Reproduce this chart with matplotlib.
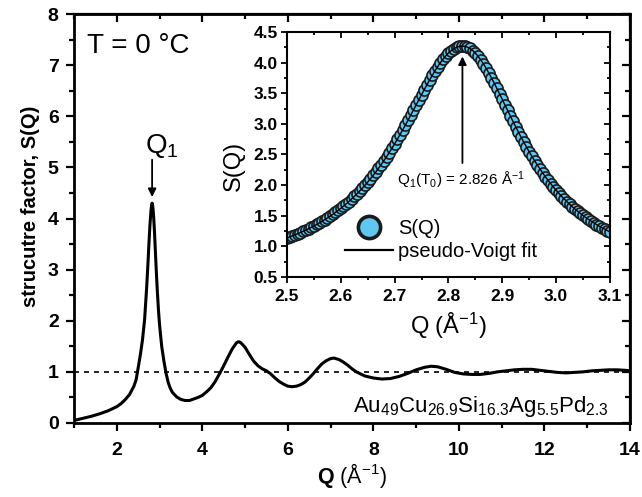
"""
Structure factor S(Q) of the Au49Cu26.9Si16.3Ag5.5Pd2.3 melt at T = 0 C,
with an inset zooming on the first sharp diffraction peak Q1.
"""

import matplotlib

matplotlib.use("Agg")
import matplotlib.pyplot as plt
from matplotlib.ticker import MultipleLocator

plt.rcParams["font.family"] = ["Liberation Sans", "DejaVu Sans"]
plt.rcParams["mathtext.fontset"] = "custom"
plt.rcParams["mathtext.rm"] = "Liberation Sans"
plt.rcParams["mathtext.it"] = "Liberation Sans:italic"
plt.rcParams["mathtext.bf"] = "Liberation Sans:bold"

# ---------------------------------------------------------------------------
# Data
# ---------------------------------------------------------------------------
q_main = [
    1.00, 1.20, 1.40, 1.60, 1.80, 2.00, 2.10, 2.20, 2.30, 2.40, 2.45, 2.50,
    2.55, 2.60, 2.65, 2.70, 2.725, 2.75, 2.775, 2.80, 2.815, 2.826, 2.84,
    2.86, 2.88, 2.90, 2.925, 2.95, 2.975, 3.00, 3.05, 3.10, 3.15, 3.20, 3.25,
    3.30, 3.40, 3.50, 3.60, 3.70, 3.80, 3.90, 4.00, 4.10, 4.20, 4.30, 4.40,
    4.50, 4.60, 4.70, 4.80, 4.85, 4.90, 5.00, 5.10, 5.20, 5.30, 5.40, 5.50,
    5.60, 5.70, 5.80, 5.90, 6.00, 6.10, 6.20, 6.30, 6.40, 6.50, 6.60, 6.70,
    6.80, 6.90, 7.00, 7.08, 7.20, 7.30, 7.40, 7.50, 7.60, 7.70, 7.80, 7.90,
    8.00, 8.20, 8.40, 8.60, 8.80, 9.00, 9.20, 9.35, 9.50, 9.70, 9.90, 10.10,
    10.30, 10.50, 10.70, 10.90, 11.10, 11.30, 11.50, 11.70, 11.90, 12.10,
    12.30, 12.50, 12.70, 12.90, 13.10, 13.30, 13.50, 13.70, 13.90, 14.00,
]
s_main = [
    0.05, 0.09, 0.13, 0.18, 0.24, 0.32, 0.38, 0.46, 0.56, 0.72, 0.84, 1.08,
    1.33, 1.62, 2.02, 2.67, 3.06, 3.48, 3.87, 4.16, 4.26, 4.30, 4.25,
    4.06, 3.76, 3.40, 2.95, 2.55, 2.20, 1.92, 1.50, 1.22, 0.98, 0.80, 0.68,
    0.60, 0.51, 0.46, 0.44, 0.44, 0.47, 0.50, 0.54, 0.61, 0.69, 0.81, 0.96,
    1.12, 1.29, 1.45, 1.57, 1.59, 1.57, 1.48, 1.34, 1.21, 1.12, 1.06, 1.02,
    0.96, 0.88, 0.81, 0.76, 0.72, 0.71, 0.72, 0.75, 0.80, 0.88, 0.97, 1.07,
    1.16, 1.22, 1.26, 1.27, 1.24, 1.19, 1.13, 1.06, 1.00, 0.96, 0.92, 0.90,
    0.88, 0.86, 0.87, 0.91, 0.97, 1.04, 1.09, 1.11, 1.10, 1.05, 0.99, 0.96,
    0.95, 0.95, 0.97, 1.00, 1.02, 1.04, 1.05, 1.05, 1.03, 1.01,
    0.99, 0.98, 0.99, 1.00, 1.02, 1.03, 1.04, 1.04, 1.03, 1.02,
]

# inset: first peak, sampled every 0.005 A^-1 from 2.500 to 3.100
q_peak = [round(2.5 + 0.005 * i, 3) for i in range(121)]
s_peak = [
    1.137, 1.154, 1.171, 1.188, 1.207, 1.226, 1.246, 1.266, 1.288, 1.310,
    1.333, 1.357, 1.382, 1.408, 1.435, 1.463, 1.492, 1.522, 1.554, 1.587,
    1.621, 1.656, 1.693, 1.732, 1.772, 1.814, 1.857, 1.903, 1.949, 1.998,
    2.050, 2.102, 2.157, 2.214, 2.273, 2.335, 2.398, 2.463, 2.531, 2.601,
    2.673, 2.747, 2.823, 2.901, 2.980, 3.061, 3.143, 3.226, 3.309, 3.392,
    3.475, 3.557, 3.637, 3.716, 3.792, 3.865, 3.934, 3.998, 4.057, 4.109,
    4.156, 4.195, 4.226, 4.249, 4.264, 4.270, 4.267, 4.253, 4.230, 4.197,
    4.155, 4.104, 4.045, 3.980, 3.908, 3.831, 3.750, 3.665, 3.578, 3.489,
    3.399, 3.308, 3.218, 3.128, 3.039, 2.952, 2.866, 2.782, 2.701, 2.622,
    2.545, 2.471, 2.399, 2.330, 2.264, 2.200, 2.138, 2.079, 2.023, 1.969,
    1.917, 1.867, 1.819, 1.774, 1.730, 1.688, 1.648, 1.610, 1.573, 1.538,
    1.504, 1.472, 1.441, 1.412, 1.384, 1.356, 1.330, 1.305, 1.282, 1.258,
    1.236,
]

q1_value = 2.826

# ---------------------------------------------------------------------------
# Helpers
# ---------------------------------------------------------------------------


def mirror_ticks(ax, xmaj, xmin, ymaj, ymin, lw, major_len, minor_len):
    """Inward ticks on top/right (Origin style), outward on bottom/left."""
    top = ax.secondary_xaxis("top")
    top.xaxis.set_major_locator(MultipleLocator(xmaj))
    top.xaxis.set_minor_locator(MultipleLocator(xmin))
    top.tick_params(which="both", direction="in", labeltop=False, width=lw)
    top.tick_params(which="major", length=major_len)
    top.tick_params(which="minor", length=minor_len)
    top.spines["top"].set_linewidth(lw)

    right = ax.secondary_yaxis("right")
    right.yaxis.set_major_locator(MultipleLocator(ymaj))
    right.yaxis.set_minor_locator(MultipleLocator(ymin))
    right.tick_params(which="both", direction="in", labelright=False, width=lw)
    right.tick_params(which="major", length=major_len)
    right.tick_params(which="minor", length=minor_len)
    right.spines["right"].set_linewidth(lw)


# ---------------------------------------------------------------------------
# Figure
# ---------------------------------------------------------------------------
fig = plt.figure(figsize=(6.42, 4.97), dpi=100)

# --- main panel ------------------------------------------------------------
ax = fig.add_axes([0.1153, 0.1489, 0.866, 0.8229])
ax.plot(q_main, s_main, color="black", lw=2.2, zorder=3)
ax.axhline(1.0, color="black", lw=1.2, ls=(0, (3, 3)), zorder=2)

ax.set_xlim(1, 14)
ax.set_ylim(0, 8)
ax.xaxis.set_major_locator(MultipleLocator(2))
ax.xaxis.set_minor_locator(MultipleLocator(1))
ax.yaxis.set_major_locator(MultipleLocator(1))
ax.yaxis.set_minor_locator(MultipleLocator(0.5))
ax.tick_params(which="both", direction="out", width=1.6, labelsize=14)
ax.tick_params(axis="x", pad=8)
ax.tick_params(axis="y", pad=5)
ax.tick_params(which="major", length=6)
ax.tick_params(which="minor", length=3.5)
for lab in ax.get_xticklabels() + ax.get_yticklabels():
    lab.set_fontweight("bold")
for sp in ax.spines.values():
    sp.set_linewidth(2.0)
mirror_ticks(ax, 2, 1, 1, 0.5, 1.6, 6, 3.5)

ax.set_ylabel("strucutre factor, S(Q)", fontsize=14.5, fontweight="bold")
ax.yaxis.set_label_coords(-0.062, 0.53)
ax.set_xlabel(r"$\mathbf{Q}$ (Å$^{-1}$)", fontsize=15.5)
ax.xaxis.set_label_coords(0.5, -0.093)

ax.text(1.3, 7.24, "T = 0 °C", fontsize=20, ha="left", va="baseline")
ax.text(2.66, 5.28, r"Q$_1$", fontsize=20, ha="left", va="baseline")
ax.annotate(
    "", xy=(q1_value, 4.42), xytext=(q1_value, 5.15),
    arrowprops=dict(arrowstyle="-|>", color="black", lw=1.3,
                    mutation_scale=12, shrinkA=0, shrinkB=0),
)
ax.text(7.52, 0.22,
        r"Au$_{49}$Cu$_{26.9}$Si$_{16.3}$Ag$_{5.5}$Pd$_{2.3}$",
        fontsize=16, ha="left", va="baseline")

# --- inset -----------------------------------------------------------------
ax_in = fig.add_axes([0.447, 0.4427, 0.503, 0.493])
pts, = ax_in.plot(q_peak, s_peak, "o", ms=8, mfc="#5ec8f2", mec="#1a1a1a",
                  mew=1.2, zorder=2, label="S(Q)")
fit, = ax_in.plot(q_peak, s_peak, "-", color="black", lw=1.0, zorder=3,
                  label="pseudo-Voigt fit")

ax_in.set_xlim(2.5, 3.1)
ax_in.set_ylim(0.5, 4.5)
ax_in.xaxis.set_major_locator(MultipleLocator(0.1))
ax_in.xaxis.set_minor_locator(MultipleLocator(0.05))
ax_in.yaxis.set_major_locator(MultipleLocator(0.5))
ax_in.yaxis.set_minor_locator(MultipleLocator(0.25))
ax_in.xaxis.set_major_formatter(plt.FormatStrFormatter("%.1f"))
ax_in.yaxis.set_major_formatter(plt.FormatStrFormatter("%.1f"))
ax_in.tick_params(which="both", direction="out", width=1.3, labelsize=12.5)
ax_in.tick_params(axis="x", pad=4)
ax_in.tick_params(axis="y", pad=2)
ax_in.tick_params(which="major", length=4.5)
ax_in.tick_params(which="minor", length=2.5)
for lab in ax_in.get_xticklabels() + ax_in.get_yticklabels():
    lab.set_fontweight("bold")
for sp in ax_in.spines.values():
    sp.set_linewidth(1.5)
mirror_ticks(ax_in, 0.1, 0.05, 0.5, 0.25, 1.3, 4.5, 2.5)

ax_in.set_xlabel("Q (Å$^{-1}$)", fontsize=17)
ax_in.xaxis.set_label_coords(0.5, -0.139)
ax_in.set_ylabel("S(Q)", fontsize=17)
ax_in.yaxis.set_label_coords(-0.13, 0.453)

ax_in.annotate(
    "", xy=(q1_value, 4.10), xytext=(q1_value, 2.36),
    arrowprops=dict(arrowstyle="-|>", color="black", lw=1.3,
                    mutation_scale=12, shrinkA=0, shrinkB=0),
)
ax_in.text(2.704, 2.0, r"Q$_1$(T$_0$) = %.3f Å$^{-1}$" % q1_value,
           fontsize=11, ha="left", va="baseline")

leg = ax_in.legend(
    handles=[pts, fit], loc="upper left", bbox_to_anchor=(0.18, 0.235),
    frameon=False, fontsize=14.5, handlelength=2.4, handletextpad=0.25,
    labelspacing=0.2, borderpad=0, borderaxespad=0,
)
leg.legend_handles[0].set_markersize(16)
leg.legend_handles[0].set_markeredgewidth(2.6)
leg.legend_handles[1].set_linewidth(1.6)

fig.savefig("out.png", dpi=100)
